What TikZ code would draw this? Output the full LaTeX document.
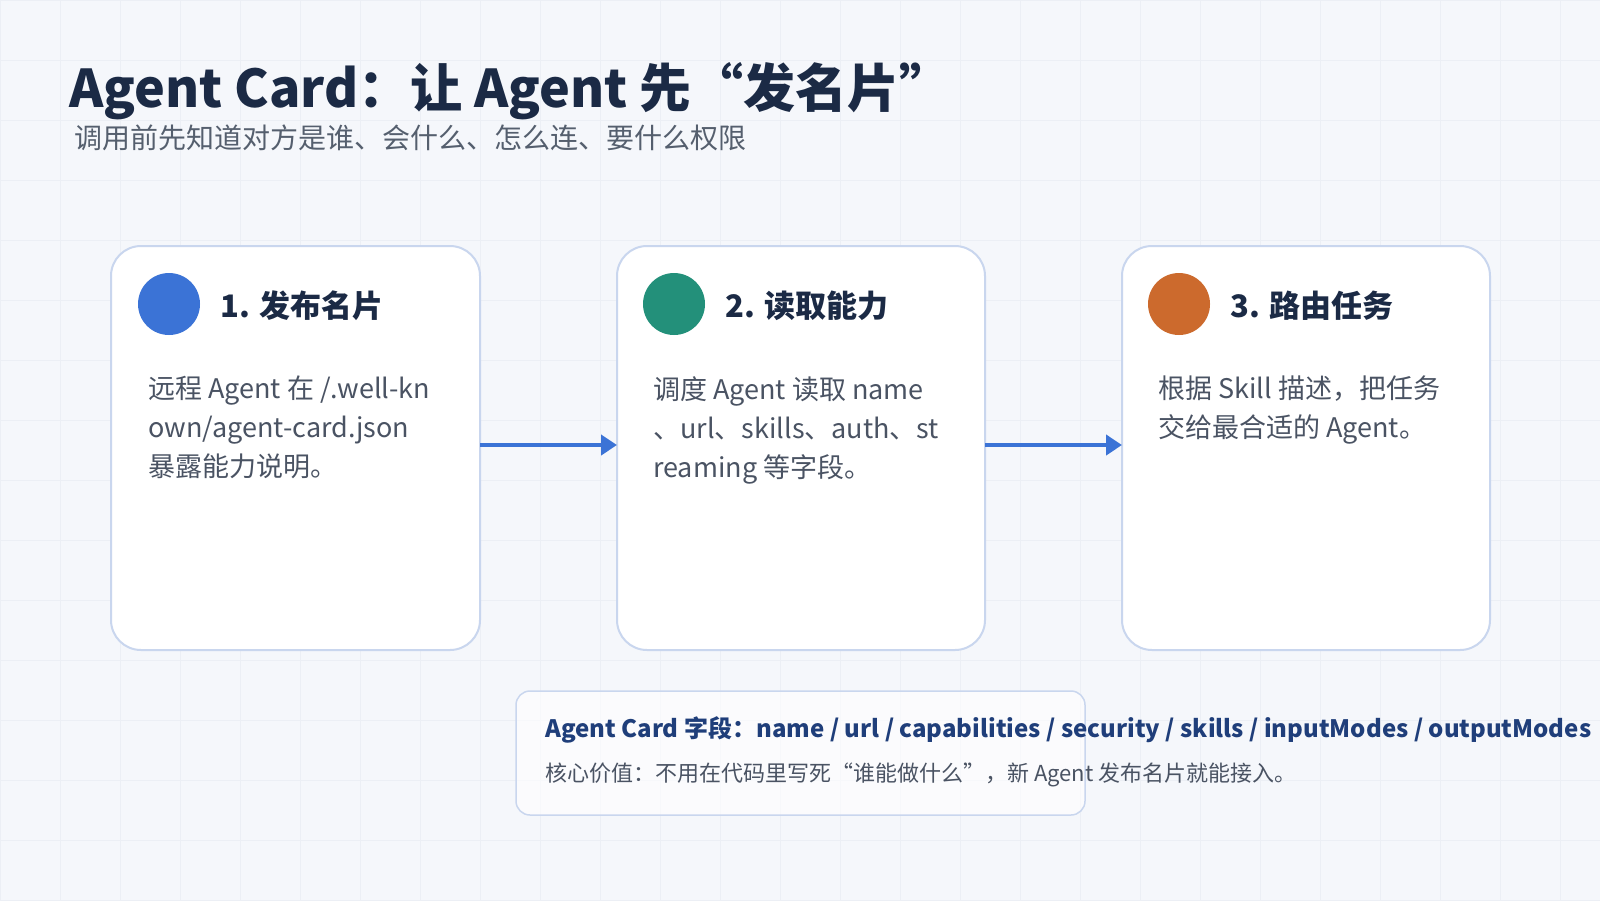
\documentclass[tikz,border=0pt]{standalone}
\usepackage{fontspec}
\setmainfont{Noto Sans CJK SC}
\usetikzlibrary{arrows.meta}
\definecolor{bg}{HTML}{F5F7FB}
\definecolor{gridc}{HTML}{ECEFF5}
\definecolor{titlec}{HTML}{1B2A45}
\definecolor{subc}{HTML}{555F6E}
\definecolor{bodyc}{HTML}{4A5363}
\definecolor{cardb}{HTML}{C9D6EE}
\definecolor{blue1}{HTML}{3B73D6}
\definecolor{green1}{HTML}{23907A}
\definecolor{orange1}{HTML}{CC6A2D}
\definecolor{darkblue}{HTML}{1F3E7A}
\begin{document}
\begin{tikzpicture}[x=1pt,y=-1pt,
  card/.style={draw=cardb,line width=2pt,fill=white,rounded corners=30pt},
  dot/.style={circle,minimum size=62pt,inner sep=0},
  txt/.style={anchor=base west,inner sep=0},
  head/.style={txt,font=\fontsize{31}{36}\selectfont\bfseries,text=titlec},
  body/.style={anchor=north west,inner sep=0,font=\fontsize{27}{39}\selectfont,text=bodyc,align=left},
  arr/.style={draw=blue1,line width=4pt,-{Triangle[length=16pt,width=20pt]}}]
\useasboundingbox (0,0) rectangle (1600,900);
\fill[bg] (0,0) rectangle (1600,900);
\foreach \x in {0,60,...,1600} \draw[gridc,line width=1pt] (\x,0)--(\x,900);
\foreach \y in {0,60,...,900} \draw[gridc,line width=1pt] (0,\y)--(1600,\y);
\node[txt,font=\fontsize{52}{60}\selectfont\bfseries,text=titlec] (title) at (69,107) {Agent Card：让 Agent 先“发名片”};
\node[txt,font=\fontsize{28}{32}\selectfont,text=subc] (sub) at (74,148) {调用前先知道对方是谁、会什么、怎么连、要什么权限};
% cards
\draw[card] (111,246) rectangle (480,650); \coordinate (c1r) at (480,445);
\draw[card] (617,246) rectangle (985,650); \coordinate (c2l) at (617,445); \coordinate (c2r) at (985,445);
\draw[card] (1122,246) rectangle (1490,650); \coordinate (c3l) at (1122,445);
\node[dot,fill=blue1] (d1) at (169,304) {};
\node[dot,fill=green1] (d2) at (674,304) {};
\node[dot,fill=orange1] (d3) at (1179,304) {};
\node[head] (h1) at (220,317) {1. 发布名片};
\node[head] (h2) at (725,317) {2. 读取能力};
\node[head] (h3) at (1230,317) {3. 路由任务};
\node[body] (b1) at (148,376) {远程 Agent 在 /.well-kn\\own/agent-card.json\\暴露能力说明。};
\node[body] (b2) at (653,376) {调度 Agent 读取 name\\、url、skills、auth、st\\reaming 等字段。};
\node[body] (b3) at (1158,376) {根据 Skill 描述，把任务\\交给最合适的 Agent。};
\draw[arr] (c1r) -- (c2l);
\draw[arr] (c2r) -- (c3l);
% bottom box
\draw[draw=cardb,line width=1.5pt,fill=white,fill opacity=0.6,rounded corners=14pt] (516,691) rectangle (1085,815);
\node[txt,font=\fontsize{24}{30}\selectfont\bfseries,text=darkblue] (f1) at (545,737) {Agent Card 字段：name / url / capabilities / security / skills / inputModes / outputModes};
\node[txt,font=\fontsize{22}{26}\selectfont,text=bodyc] (f2) at (545,781) {核心价值：不用在代码里写死“谁能做什么”，新 Agent 发布名片就能接入。};
\end{tikzpicture}
\end{document}
